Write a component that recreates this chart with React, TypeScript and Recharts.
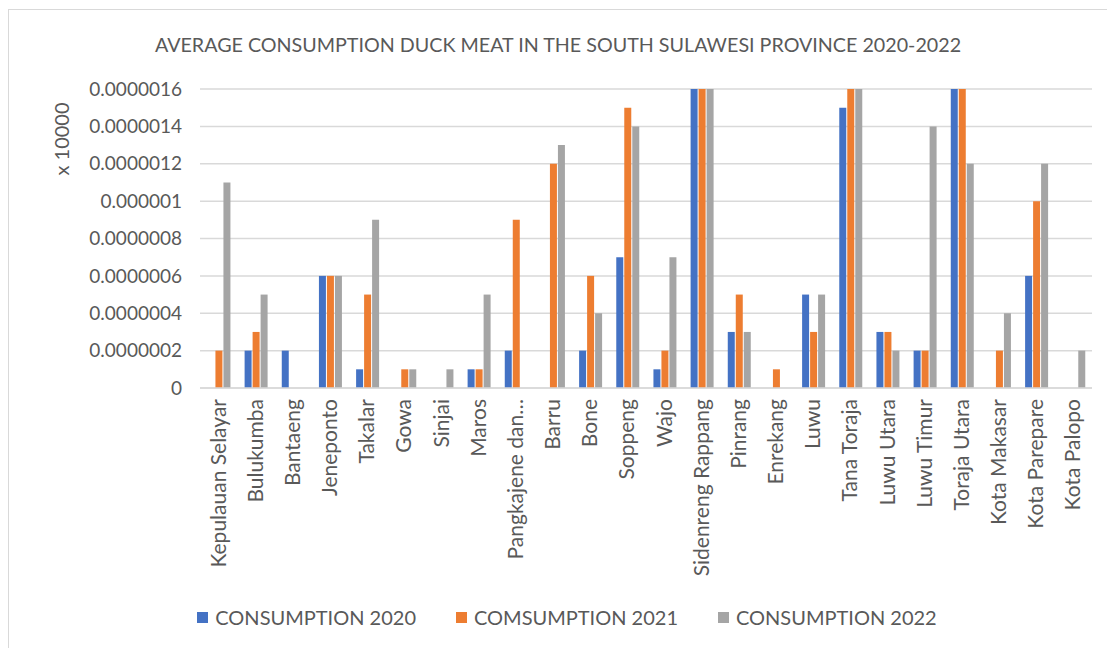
import React from 'react';
import { BarChart, Bar, XAxis, YAxis, CartesianGrid, Legend } from 'recharts';

const regions = [
  'Kepulauan Selayar', 'Bulukumba', 'Bantaeng', 'Jeneponto', 'Takalar', 'Gowa', 'Sinjai', 'Maros',
  'Pangkajene dan Kepulauan', 'Barru', 'Bone', 'Soppeng', 'Wajo', 'Sidenreng Rappang', 'Pinrang',
  'Enrekang', 'Luwu', 'Tana Toraja', 'Luwu Utara', 'Luwu Timur', 'Toraja Utara', 'Kota Makasar',
  'Kota Parepare', 'Kota Palopo'
];

// values in units of 0.0000001
const consumption2020 = [0, 2, 2, 6, 1, 0, 0, 1, 2, 0, 2, 7, 1, 16, 3, 0, 5, 15, 3, 2, 18, 0, 6, 0];
const consumption2021 = [2, 3, 0, 6, 5, 1, 0, 1, 9, 12, 6, 15, 2, 18, 5, 1, 3, 18, 3, 2, 18, 2, 10, 0];
const consumption2022 = [11, 5, 0, 6, 9, 1, 1, 5, 0, 13, 4, 14, 7, 18, 3, 0, 5, 16, 2, 14, 12, 4, 12, 2];

const yTicks = [0, 2, 4, 6, 8, 10, 12, 14, 16];

const seriesNames = ['CONSUMPTION 2020', 'COMSUMPTION 2021', 'CONSUMPTION 2022'];
const colors = ['#4472C4', '#ED7D31', '#A5A5A5'];

const chartData = regions.map((name, i) => ({
  name,
  c2020: consumption2020[i] / 1e7,
  c2021: consumption2021[i] / 1e7,
  c2022: consumption2022[i] / 1e7,
}));

const FONT = 'Lato, "Open Sans", sans-serif';
const TEXT = '#595959';

const formatTick = (v: number) => {
  if (v === 0) return '0';
  return v.toFixed(7).replace(/0+$/, '');
};

const shortName = (n: string) => (n.length > 17 ? n.slice(0, 14) + '…' : n);

const XTick = (props: any) => {
  const { x, y, payload } = props;
  return (
    <text
      x={x + 7}
      y={y + 3}
      transform={`rotate(-90 ${x + 7} ${y + 3})`}
      textAnchor="end"
      fill={TEXT}
      fontSize={21}
      fontFamily={FONT}
    >
      {shortName(payload.value)}
    </text>
  );
};

const LegendContent = () => (
  <div style={{ display: 'flex', justifyContent: 'center', gap: 40, fontFamily: FONT, fontSize: 20, color: TEXT, marginLeft: -38 }}>
    {seriesNames.map((n, i) => (
      <div key={n} style={{ display: 'flex', alignItems: 'center' }}>
        <span style={{ display: 'inline-block', width: 11, height: 11, background: colors[i], marginRight: 7 }} />
        <span>{n}</span>
      </div>
    ))}
  </div>
);

const App: React.FC = () => {
  return (
    <div style={{ width: 1098, height: 650, border: '1px solid #d9d9d9', marginTop: 1, position: 'relative', background: '#fff' }}>
      <div
        style={{
          position: 'absolute', top: 23, left: 0, width: '100%', textAlign: 'center',
          fontFamily: FONT, fontSize: 19.7, color: TEXT
        }}
      >
        AVERAGE CONSUMPTION DUCK MEAT IN THE SOUTH SULAWESI PROVINCE 2020-2022
      </div>
      <BarChart
        width={1098}
        height={640}
        data={chartData}
        margin={{ top: 79, right: 15, left: 71, bottom: 21 }}
        barCategoryGap="20%"
        barGap={1}
      >
        <CartesianGrid vertical={false} stroke="#d9d9d9" strokeWidth={1.5} />
        <XAxis
          dataKey="name"
          interval={0}
          height={217}
          axisLine={{ stroke: '#d9d9d9', strokeWidth: 1.5 }}
          tickLine={false}
          tick={<XTick />}
        />
        <YAxis
          width={120}
          domain={[0, 0.0000016]}
          allowDataOverflow
          ticks={yTicks.map(t => t / 1e7)}
          tickFormatter={formatTick}
          axisLine={false}
          tickLine={false}
          tickMargin={12}
          tick={{ fill: TEXT, fontSize: 19, fontFamily: FONT }}
          label={{
            content: () => (
              <text x={52} y={129} transform="rotate(-90 52 129)" textAnchor="middle" dominantBaseline="central"
                fill={TEXT} fontSize={20} fontFamily={FONT}>
                x 10000
              </text>
            )
          }}
        />
        <Legend verticalAlign="bottom" content={<LegendContent />} />
        <Bar dataKey="c2020" name={seriesNames[0]} fill={colors[0]} isAnimationActive={false} />
        <Bar dataKey="c2021" name={seriesNames[1]} fill={colors[1]} isAnimationActive={false} />
        <Bar dataKey="c2022" name={seriesNames[2]} fill={colors[2]} isAnimationActive={false} />
      </BarChart>
    </div>
  );
};

export default App;
